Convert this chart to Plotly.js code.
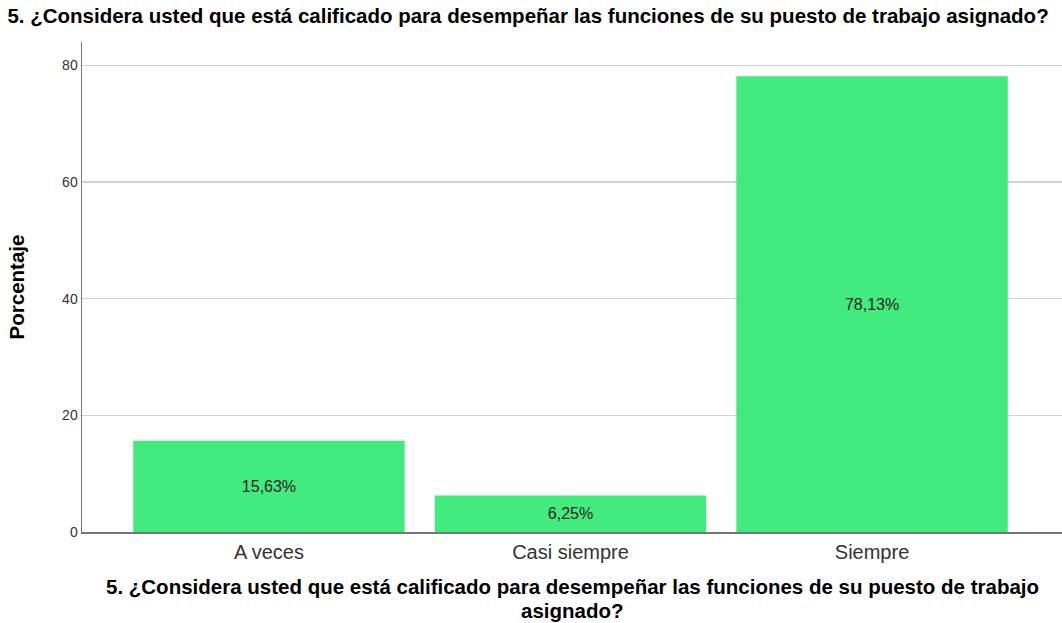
<!DOCTYPE html>
<html>
<head>
<meta charset="utf-8">
<script src="https://cdn.plot.ly/plotly-3.0.1.min.js"></script>
<style>html,body{margin:0;padding:0;background:#fff;}#chart{width:1062px;height:623px;}</style>
</head>
<body>
<div id="chart"></div>
<script>
const categories = ["A veces", "Casi siempre", "Siempre"];
const percentages = [15.63, 6.25, 78.13];
const labels = ["15,63%", "6,25%", "78,13%"];
const yTicks = [0, 20, 40, 60, 80];

const titleText = "5. ¿Considera usted que está calificado para desempeñar las funciones de su puesto de trabajo asignado?";
const xTitleLine1 = "5. ¿Considera usted que está calificado para desempeñar las funciones de su puesto de trabajo";
const xTitleLine2 = "asignado?";

const font = "Liberation Sans, Arial, sans-serif";

Plotly.newPlot("chart", [{
  type: "bar",
  x: categories,
  y: percentages,
  text: labels,
  textposition: "inside",
  insidetextanchor: "middle",
  textangle: 0,
  textfont: {family: font, size: 16, color: "#222"},
  marker: {color: "#42EB7E", line: {width: 0}},
  width: 0.9,
  hoverinfo: "x+y"
}], {
  width: 1062, height: 623,
  margin: {l: 82, r: 0, t: 42, b: 91, pad: 0},
  paper_bgcolor: "#fff", plot_bgcolor: "#fff",
  showlegend: false,
  title: {text: "<b>" + titleText + "</b>", x: 0.007, xanchor: "left", y: 0.986, yanchor: "top",
          font: {family: font, size: 20.5, color: "#000"}},
  xaxis: {
    range: [-0.62, 2.63],
    showgrid: false, zeroline: false,
    showline: true, linecolor: "#777", linewidth: 1.5,
    ticks: "", ticklabelstandoff: 1, tickfont: {family: font, size: 20, color: "#333"}
  },
  yaxis: {
    range: [0, 84],
    tickvals: yTicks,
    showgrid: true, gridcolor: "#d2d2d2", gridwidth: 1.5,
    zeroline: false,
    showline: true, linecolor: "#777", linewidth: 1.5,
    ticks: "", ticklen: 0, tickfont: {family: font, size: 14, color: "#333"},
    title: {text: "<b>Porcentaje</b>", font: {family: font, size: 20.5, color: "#000"}, standoff: 32}
  },
  annotations: [
    {text: "<b>" + xTitleLine1 + "</b>", xref: "paper", yref: "paper", x: 0.5, y: -0.1122,
     xanchor: "center", yanchor: "middle", showarrow: false, borderpad: 0,
     font: {family: font, size: 20.5, color: "#000"}},
    {text: "<b>" + xTitleLine2 + "</b>", xref: "paper", yref: "paper", x: 0.5, y: -0.1612,
     xanchor: "center", yanchor: "middle", showarrow: false, borderpad: 0,
     font: {family: font, size: 20.5, color: "#000"}}
  ]
}, {displayModeBar: false, staticPlot: true});
</script>
</body>
</html>
